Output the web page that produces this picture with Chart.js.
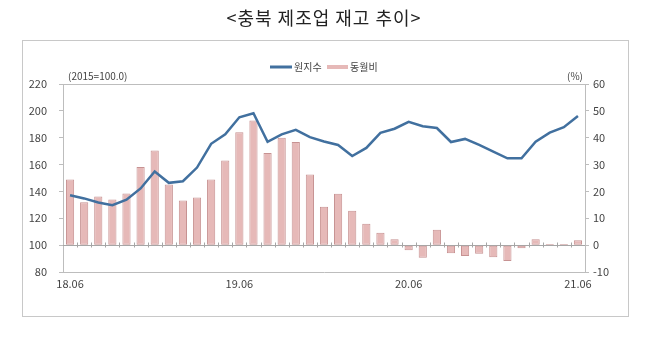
<!DOCTYPE html>
<html>
<head>
<meta charset="utf-8">
<script src="https://cdn.jsdelivr.net/npm/chart.js@4"></script>
<style>
html, body { margin: 0; padding: 0; background: #fff; }
#wrap { position: relative; width: 648px; height: 338px; }
#frame { position: absolute; left: 22px; top: 40px; width: 605px; height: 275px; border: 1px solid #c8c8c8; }
canvas { position: absolute; left: 0; top: 0; }
</style>
</head>
<body>
<div id="wrap">
  <div id="frame"></div>
  <canvas id="myChart" width="648" height="338"></canvas>
</div>
<script>
const months = [
    '18.06', '18.07', '18.08', '18.09', '18.10', '18.11', '18.12',
    '19.01', '19.02', '19.03', '19.04', '19.05', '19.06', '19.07', '19.08', '19.09', '19.10', '19.11', '19.12',
    '20.01', '20.02', '20.03', '20.04', '20.05', '20.06', '20.07', '20.08', '20.09', '20.10', '20.11', '20.12',
    '21.01', '21.02', '21.03', '21.04', '21.05', '21.06'
];
// 원지수 (2015=100.0)
const indexValues = [
    137.2, 134.8, 131.8, 129.8, 133.8, 142.2, 154.8,
    146.4, 147.6, 157.8, 175.5, 182.6, 195.2, 198.2, 177.0, 182.5, 185.8, 180.4, 177.2,
    174.6, 166.4, 172.4, 183.6, 186.7, 191.8, 188.6, 187.2, 176.8, 179.1, 174.6, 169.7,
    164.7, 164.7, 177.0, 183.8, 187.8, 196.2
];
// 동월비 (%)
const yoyValues = [
    24.4, 16.0, 18.1, 17.0, 19.2, 29.1, 35.2,
    22.6, 16.6, 17.7, 24.4, 31.5, 42.0, 46.4, 34.3, 40.0, 38.4, 26.3, 14.3,
    19.1, 12.8, 8.0, 4.6, 2.2, -1.9, -4.7, 5.7, -3.0, -4.0, -3.2, -4.5,
    -5.9, -1.2, 2.2, 0.4, 0.4, 1.8
];
const yearTicks = ['18.06', '19.06', '20.06', '21.06'];

const lineColor = '#41709f';
const barFill = '#e6b9b8';
const barEdge = '#c79292';
const axisColor = '#bdbdbd';
const textColor = '#444';
const fontFamily = '"Noto Sans CJK KR", "Noto Sans", sans-serif';

// title, legend, unit labels, plot frame and the zero line with its ticks
const decorations = {
    id: 'decorations',
    beforeDatasetsDraw(chart) {
        const { ctx, chartArea, scales } = chart;
        const y0 = Math.round(scales.y1.getPixelForValue(0)) + 0.5;
        const step = (chartArea.right - chartArea.left) / months.length;
        ctx.save();
        ctx.strokeStyle = axisColor;
        ctx.lineWidth = 1;
        ctx.beginPath();
        ctx.moveTo(chartArea.left, Math.round(chartArea.top) + 0.5);
        ctx.lineTo(chartArea.right, Math.round(chartArea.top) + 0.5);
        ctx.stroke();
        ctx.strokeStyle = '#a6a6a6';
        ctx.beginPath();
        ctx.moveTo(chartArea.left, y0);
        ctx.lineTo(chartArea.right, y0);
        for (let i = 1; i < months.length; i++) {
            const x = Math.round(chartArea.left + step * i) + 0.5;
            ctx.moveTo(x, y0 - 3);
            ctx.lineTo(x, y0 + 2);
        }
        ctx.stroke();
        ctx.restore();
    },
    afterDraw(chart) {
        const { ctx, chartArea } = chart;
        ctx.save();
        ctx.fillStyle = '#222';
        ctx.font = '18px ' + fontFamily;
        ctx.letterSpacing = '1px';
        ctx.textAlign = 'center';
        ctx.textBaseline = 'middle';
        ctx.fillText('<충북 제조업 재고 추이>', 324, 18);
        ctx.letterSpacing = '0px';

        ctx.font = '10px ' + fontFamily;
        ctx.fillStyle = textColor;
        ctx.textAlign = 'left';
        ctx.fillText('(2015=100.0)', chartArea.left + 5, 76);
        ctx.textAlign = 'right';
        ctx.fillText('(%)', chartArea.right - 2, 76);

        // legend
        ctx.textAlign = 'left';
        ctx.strokeStyle = lineColor;
        ctx.lineWidth = 3;
        ctx.beginPath();
        ctx.moveTo(270, 67);
        ctx.lineTo(292, 67);
        ctx.stroke();
        ctx.fillText('원지수', 294, 67);
        ctx.fillStyle = barFill;
        ctx.fillRect(327, 65, 21, 4);
        ctx.fillStyle = textColor;
        ctx.fillText('동월비', 350, 67);
        ctx.restore();
    }
};

let ctx = document.getElementById('myChart').getContext('2d');
let chart = new Chart(ctx, {
    data: {
        labels: months,
        datasets: [{
            type: 'line',
            label: '원지수',
            data: indexValues,
            yAxisID: 'y',
            borderColor: lineColor,
            borderWidth: 2.5,
            pointRadius: 0,
            tension: 0
        }, {
            type: 'bar',
            label: '동월비',
            data: yoyValues,
            yAxisID: 'y1',
            backgroundColor: barFill,
            borderColor: barEdge,
            borderWidth: 1,
            borderSkipped: false,
            categoryPercentage: 1,
            barPercentage: 0.58
        }]
    },
    options: {
        responsive: false,
        animation: false,
        layout: { padding: { top: 84, left: 0, right: 0, bottom: 0 } },
        plugins: {
            legend: { display: false },
            title: { display: false },
            tooltip: { enabled: false }
        },
        scales: {
            x: {
                offset: true,
                grid: { display: false, drawTicks: false },
                border: { display: true, color: axisColor },
                ticks: {
                    autoSkip: false,
                    maxRotation: 0,
                    padding: 5,
                    color: textColor,
                    font: { size: 11, family: fontFamily },
                    callback: (v, i) => yearTicks.includes(months[i]) ? months[i] : ''
                },
                afterFit: s => { s.height = 66; }
            },
            y: {
                position: 'left',
                min: 80,
                max: 220,
                grid: { drawOnChartArea: false, tickLength: 4, color: axisColor },
                border: { color: axisColor },
                ticks: {
                    stepSize: 20,
                    padding: 12,
                    color: textColor,
                    font: { size: 11, family: fontFamily }
                },
                afterFit: s => { s.width = 63; }
            },
            y1: {
                position: 'right',
                min: -10,
                max: 60,
                grid: { drawOnChartArea: false, tickLength: 4, color: axisColor },
                border: { color: axisColor },
                ticks: {
                    stepSize: 10,
                    padding: 4,
                    color: textColor,
                    font: { size: 11, family: fontFamily }
                },
                afterFit: s => { s.width = 63; }
            }
        }
    },
    plugins: [decorations]
});
</script>
</body>
</html>
